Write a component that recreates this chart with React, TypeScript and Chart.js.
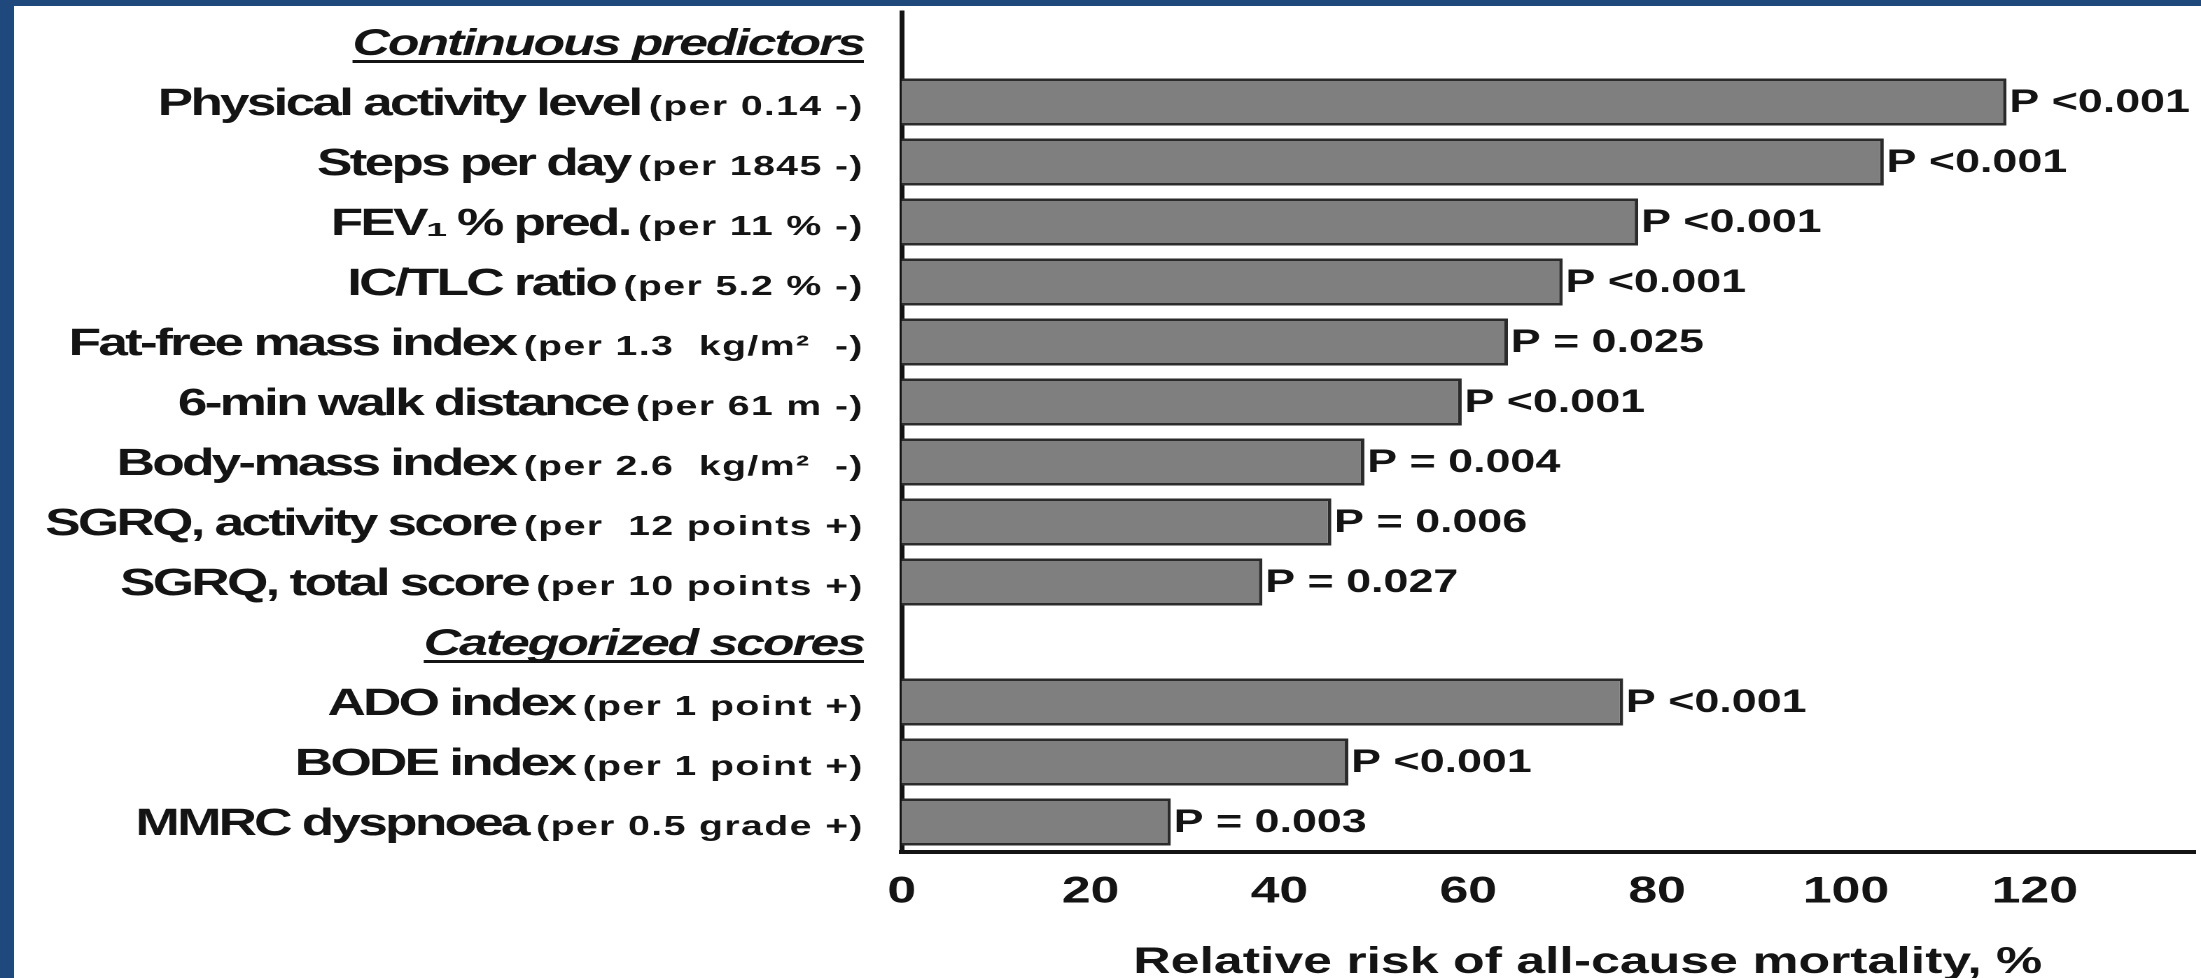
import React, { useEffect, useRef } from "react";
import { Chart, registerables } from "chart.js";

Chart.register(...registerables);

// ---- data ----
const rowLabels = [
  "Continuous predictors",
  "Physical activity level",
  "Steps per day",
  "FEV\u2081 % pred.",
  "IC/TLC ratio",
  "Fat-free mass index",
  "6-min walk distance",
  "Body-mass index",
  "SGRQ, activity score",
  "SGRQ, total score",
  "Categorized scores",
  "ADO index",
  "BODE index",
  "MMRC dyspnoea",
];
const rowNotes = [
  "",
  "(per 0.14 -)",
  "(per 1845 -)",
  "(per 11 % -)",
  "(per 5.2 % -)",
  "(per 1.3  kg/m\u00b2  -)",
  "(per 61 m -)",
  "(per 2.6  kg/m\u00b2  -)",
  "(per  12 points +)",
  "(per 10 points +)",
  "",
  "(per 1 point +)",
  "(per 1 point +)",
  "(per 0.5 grade +)",
];
const headerRows = [true, false, false, false, false, false, false, false, false, false, true, false, false, false];
const riskValues = [null, 117, 104, 78, 70, 64.2, 59.3, 49, 45.5, 38.2, null, 76.4, 47.3, 28.5];
const pLabels = [
  "",
  "P <0.001",
  "P <0.001",
  "P <0.001",
  "P <0.001",
  "P = 0.025",
  "P <0.001",
  "P = 0.004",
  "P = 0.006",
  "P = 0.027",
  "",
  "P <0.001",
  "P <0.001",
  "P = 0.003",
];
const xTicks = [0, 20, 40, 60, 80, 100, 120];
const axisTitle = "Relative risk of all-cause mortality, %";

// ---- style ----
const FONT = '"Liberation Sans", Arial, Helvetica, sans-serif';
const INK = "#141414";
const LOGICAL_W = 1562;
const LOGICAL_H = 972;

const textPlugin = {
  id: "rowText",
  afterDraw(chart: any) {
    const ctx = chart.ctx as CanvasRenderingContext2D & { letterSpacing?: string };
    const ys = chart.scales.y;
    const xs = chart.scales.x;
    const area = chart.chartArea;
    const right = area.left - 27;
    ctx.save();
    ctx.fillStyle = INK;
    ctx.textBaseline = "alphabetic";
    ctx.textAlign = "right";
    rowLabels.forEach((lab, i) => {
      const cy = ys.getPixelForValue(i);
      const base = cy + 13;
      if (headerRows[i]) {
        ctx.font = `italic bold 37px ${FONT}`;
        ctx.letterSpacing = "-1.5px";
        const w = ctx.measureText(lab).width;
        ctx.fillText(lab, right, base);
        ctx.fillRect(right - w, base + 5, w, 3);
      } else {
        ctx.font = `bold 28px ${FONT}`;
        ctx.letterSpacing = "1px";
        const note = rowNotes[i];
        const nw = ctx.measureText(note).width;
        ctx.fillText(note, right, base);
        ctx.font = `bold 38px ${FONT}`;
        ctx.letterSpacing = "-2px";
        ctx.fillText(lab, right - nw - 6, base);
      }
    });
    // p-value labels at bar ends
    ctx.letterSpacing = "0px";
    ctx.font = `bold 32px ${FONT}`;
    ctx.textAlign = "left";
    ctx.textBaseline = "middle";
    riskValues.forEach((v, i) => {
      if (v === null || !pLabels[i]) return;
      ctx.fillText(pLabels[i], xs.getPixelForValue(v) + 2, ys.getPixelForValue(i) + 1);
    });
    // axis title
    ctx.font = `bold 37px ${FONT}`;
    ctx.textAlign = "center";
    ctx.textBaseline = "alphabetic";
    ctx.fillText(axisTitle, (area.left + area.right) / 2 + 28, chart.height - 5);
    ctx.restore();
  },
};

export default function App() {
  const ref = useRef<HTMLCanvasElement>(null);
  useEffect(() => {
    if (!ref.current) return;
    const chart = new Chart(ref.current, {
      type: "bar",
      data: {
        labels: rowLabels,
        datasets: [
          {
            data: riskValues as any,
            backgroundColor: "#7f7f7f",
            borderColor: "#2b2b2b",
            borderWidth: 2.5,
            barPercentage: 0.8,
            categoryPercentage: 0.98,
          },
        ],
      },
      options: {
        indexAxis: "y",
        responsive: false,
        devicePixelRatio: 2,
        animation: false,
        events: [],
        layout: { padding: { top: 6, right: 4, left: 0, bottom: 0 } },
        plugins: {
          legend: { display: false },
          tooltip: { enabled: false },
        },
        scales: {
          y: {
            type: "category",
            ticks: { display: false },
            grid: { display: false, drawTicks: false },
            border: { display: true, color: INK, width: 3.5 },
            afterFit: (s: any) => {
              s.width = 634;
            },
          },
          x: {
            type: "linear",
            min: 0,
            max: 137,
            afterBuildTicks: (s: any) => {
              s.ticks = xTicks.map((v) => ({ value: v }));
            },
            ticks: {
              color: INK,
              font: { family: FONT, size: 37, weight: "bold" },
              padding: 18,
              maxRotation: 0,
            },
            grid: { display: false, drawTicks: false, tickLength: 0 },
            border: { display: true, color: INK, width: 4 },
            afterFit: (s: any) => {
              s.height = 126;
            },
          },
        },
      },
      plugins: [textPlugin],
    });
    return () => chart.destroy();
  }, []);
  return (
    <div
      style={{
        position: "fixed",
        left: 0,
        top: 0,
        width: 2201,
        height: 978,
        background: "#1F487C",
        overflow: "hidden",
      }}
    >
      <canvas
        ref={ref}
        width={LOGICAL_W}
        height={LOGICAL_H}
        style={{
          position: "absolute",
          left: 14,
          top: 6,
          width: "2187px",
          height: "972px",
          background: "#ffffff",
        }}
      />
    </div>
  );
}
